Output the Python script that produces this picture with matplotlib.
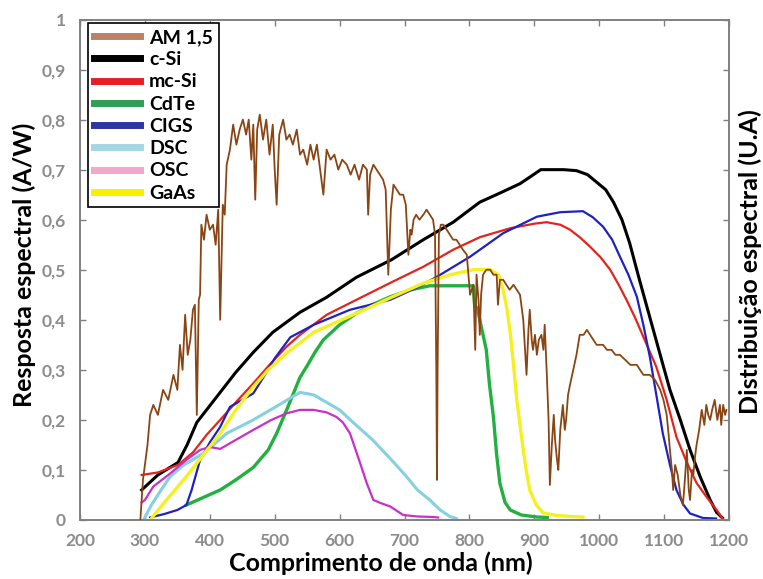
import matplotlib
matplotlib.use("Agg")
import matplotlib.pyplot as plt
from matplotlib.lines import Line2D

plt.rcParams['font.family'] = ['Lato', 'DejaVu Sans']

# ---------------- data ----------------
am15_wl = [293, 297, 304, 308, 313, 320, 328, 336, 344, 350, 354, 358, 362, 366, 370, 374, 377, 380,
           383, 385, 387, 391, 395, 400, 405, 409, 413, 416, 420, 423, 426, 431, 436, 441, 446, 451,
           456, 460, 464, 467, 470, 473, 477, 482, 487, 492, 497, 500, 503, 507, 513, 518, 523, 528,
           534, 539, 544, 550, 555, 560, 565, 570, 575, 580, 586, 592, 598, 604, 611, 617, 623, 630,
           636, 642, 644, 647, 652, 657, 662, 667, 671, 675, 679, 683, 688, 693, 698, 702, 706, 709,
           711, 714, 718, 723, 729, 734, 739, 744, 747, 749, 750, 751, 753, 756, 760, 765, 770, 775,
           780, 785, 790, 796, 801, 806, 809, 811, 814, 816, 818, 821, 826, 832, 837, 842, 844, 847,
           852, 857, 862, 868, 873, 878, 883, 888, 891, 893, 896, 898, 901, 904, 907, 911, 914, 916,
           919, 922, 924, 927, 930, 932, 935, 937, 940, 944, 947, 949, 952, 955, 960, 965, 970, 976,
           981, 986, 991, 996, 1001, 1006, 1012, 1019, 1025, 1032, 1040, 1048, 1058, 1068, 1078, 1086,
           1094, 1099, 1104, 1107, 1109, 1112, 1114, 1117, 1121, 1125, 1129, 1132, 1135, 1138, 1140,
           1143, 1145, 1148, 1150, 1154, 1158, 1162, 1165, 1168, 1171, 1174, 1178, 1182, 1186, 1188,
           1191, 1194, 1196]
am15_val = [0.00, 0.08, 0.15, 0.21, 0.23, 0.21, 0.26, 0.24, 0.29, 0.26, 0.35, 0.30, 0.41, 0.33, 0.36, 0.42, 0.43, 0.21,
            0.44, 0.45, 0.59, 0.56, 0.61, 0.58, 0.59, 0.55, 0.62, 0.40, 0.63, 0.61, 0.71, 0.74, 0.79, 0.75, 0.78, 0.80,
            0.77, 0.80, 0.72, 0.79, 0.64, 0.78, 0.81, 0.76, 0.80, 0.73, 0.79, 0.70, 0.63, 0.77, 0.80, 0.76, 0.77, 0.75,
            0.78, 0.73, 0.74, 0.71, 0.75, 0.72, 0.75, 0.70, 0.65, 0.74, 0.72, 0.73, 0.70, 0.72, 0.71, 0.69, 0.71, 0.68,
            0.71, 0.70, 0.61, 0.69, 0.71, 0.70, 0.69, 0.68, 0.66, 0.49, 0.62, 0.67, 0.66, 0.65, 0.65, 0.63, 0.53, 0.58,
            0.57, 0.60, 0.61, 0.60, 0.61, 0.62, 0.61, 0.60, 0.57, 0.30, 0.08, 0.30, 0.57, 0.59, 0.59, 0.58, 0.57, 0.56,
            0.56, 0.55, 0.54, 0.53, 0.45, 0.47, 0.34, 0.49, 0.44, 0.37, 0.45, 0.49, 0.50, 0.50, 0.49, 0.49, 0.43, 0.48,
            0.48, 0.47, 0.46, 0.47, 0.46, 0.45, 0.40, 0.29, 0.38, 0.42, 0.36, 0.34, 0.37, 0.33, 0.36, 0.37, 0.34, 0.39,
            0.30, 0.20, 0.07, 0.15, 0.21, 0.16, 0.12, 0.10, 0.18, 0.23, 0.18, 0.20, 0.25, 0.27, 0.30, 0.33, 0.37, 0.37,
            0.38, 0.37, 0.36, 0.35, 0.35, 0.35, 0.34, 0.34, 0.33, 0.33, 0.32, 0.31, 0.31, 0.29, 0.29, 0.28,
            0.26, 0.24, 0.21, 0.17, 0.14, 0.10, 0.06, 0.11, 0.09, 0.05, 0.03, 0.08, 0.14, 0.06, 0.04,
            0.10, 0.09, 0.13, 0.15, 0.18, 0.22, 0.19, 0.23, 0.21, 0.20, 0.22, 0.24, 0.20, 0.23, 0.19,
            0.23, 0.21, 0.22]

csi_wl = [295, 320, 351, 365, 380, 398, 416, 440, 467, 497, 539, 580, 626, 680, 729, 775, 816, 850, 878, 893,
          910, 924, 945, 965, 982, 996, 1010, 1022, 1035, 1047, 1062, 1078, 1094, 1109, 1125, 1140, 1156,
          1171, 1181, 1190]
csi_val = [0.06, 0.09, 0.115, 0.15, 0.195, 0.225, 0.255, 0.295, 0.335, 0.375, 0.415, 0.445, 0.485, 0.52, 0.56,
           0.595, 0.635, 0.655, 0.672, 0.685, 0.70, 0.70, 0.70, 0.698, 0.69, 0.675, 0.66, 0.635, 0.60, 0.553,
           0.48, 0.405, 0.33, 0.26, 0.20, 0.14, 0.085, 0.04, 0.015, 0.004]

mcsi_wl = [295, 320, 351, 374, 395, 416, 440, 467, 492, 518, 539, 580, 626, 680, 729, 775, 816, 863, 900, 919,
           940, 955, 970, 986, 1002, 1017, 1030, 1042, 1055, 1068, 1088, 1104, 1119, 1135, 1150, 1166, 1181, 1190]
mcsi_val = [0.09, 0.095, 0.11, 0.135, 0.17, 0.20, 0.235, 0.273, 0.31, 0.346, 0.37, 0.41, 0.44, 0.475, 0.506,
            0.54, 0.565, 0.583, 0.592, 0.595, 0.59, 0.58, 0.565, 0.546, 0.525, 0.50, 0.47, 0.44, 0.405, 0.366,
            0.306, 0.24, 0.166, 0.115, 0.074, 0.045, 0.02, 0.003]

cdte_wl = [364, 390, 416, 440, 467, 490, 503, 520, 539, 549, 562, 575, 600, 626, 650, 678, 710, 739, 760, 790,
           806, 808, 813, 816, 821, 826, 831, 837, 842, 847, 855, 863, 880, 904, 920]
cdte_val = [0.03, 0.045, 0.06, 0.08, 0.105, 0.14, 0.173, 0.225, 0.285, 0.306, 0.335, 0.36, 0.39, 0.413,
            0.43, 0.446, 0.46, 0.468, 0.468, 0.468, 0.468, 0.43, 0.42, 0.40, 0.37, 0.34, 0.27, 0.206, 0.13,
            0.073, 0.035, 0.02, 0.01, 0.006, 0.005]

cigs_wl = [308, 330, 350, 364, 372, 385, 400, 416, 431, 450, 467, 485, 500, 524, 560, 616, 678, 720, 750, 801,
           852, 904, 940, 975, 990, 1006, 1020, 1032, 1045, 1058, 1068, 1078, 1088, 1098, 1109, 1119, 1130,
           1140, 1160, 1180]
cigs_val = [0.005, 0.012, 0.02, 0.03, 0.06, 0.12, 0.155, 0.186, 0.226, 0.24, 0.253, 0.29, 0.323, 0.365, 0.39,
            0.42, 0.44, 0.465, 0.486, 0.526, 0.573, 0.606, 0.615, 0.617, 0.605, 0.586, 0.56, 0.526, 0.49,
            0.446, 0.39, 0.326, 0.25, 0.173, 0.11, 0.06, 0.03, 0.013, 0.004, 0.003]

dsc_wl = [298, 310, 325, 339, 360, 390, 426, 467, 500, 539, 560, 600, 625, 651, 680, 703, 720, 739, 755,
          770, 780]
dsc_val = [0.0, 0.03, 0.06, 0.087, 0.11, 0.133, 0.173, 0.20, 0.225, 0.255, 0.25, 0.22, 0.19, 0.16, 0.12,
           0.087, 0.06, 0.04, 0.02, 0.007, 0.003]

osc_wl = [295, 300, 313, 326, 339, 364, 385, 400, 416, 440, 467, 495, 518, 539, 560, 580, 595, 605, 616,
          630, 642, 652, 665, 678, 698, 720, 744, 752]
osc_val = [0.035, 0.04, 0.067, 0.08, 0.093, 0.12, 0.14, 0.146, 0.142, 0.16, 0.18, 0.20, 0.213, 0.22, 0.22,
           0.215, 0.206, 0.195, 0.173, 0.12, 0.073, 0.04, 0.033, 0.027, 0.01, 0.007, 0.006, 0.005]

gaas_wl = [308, 330, 364, 390, 416, 440, 467, 490, 518, 560, 626, 680, 729, 770, 806, 832, 845, 852, 858,
           863, 868, 873, 878, 883, 888, 893, 903, 914, 935, 955, 975]
gaas_val = [0.0, 0.035, 0.087, 0.13, 0.173, 0.22, 0.266, 0.30, 0.333, 0.375, 0.413, 0.445, 0.473, 0.49,
            0.50, 0.50, 0.49, 0.46, 0.42, 0.373, 0.31, 0.24, 0.19, 0.14, 0.095, 0.06, 0.03, 0.014, 0.009,
            0.007, 0.006]

labels = ['AM 1,5', 'c-Si', 'mc-Si', 'CdTe', 'CIGS', 'DSC', 'OSC', 'GaAs']
line_colors = ['#8a4515', '#000000', '#e3241e', '#22b040', '#1f22c0', '#86d0e0', '#c830c8', '#f5f020']
legend_colors = ['#bb8266', '#000000', '#e3202a', '#2ea055', '#3035a5', '#a6d6e6', '#f2a8c8', '#f8f000']
x_ticks = [200, 300, 400, 500, 600, 700, 800, 900, 1000, 1100, 1200]
y_ticks = [0, 0.1, 0.2, 0.3, 0.4, 0.5, 0.6, 0.7, 0.8, 0.9, 1]
y_ticklabels = ['0', '0,1', '0,2', '0,3', '0,4', '0,5', '0,6', '0,7', '0,8', '0,9', '1']

# ---------------- figure ----------------
fig = plt.figure(figsize=(7.63, 5.79), dpi=100)
ax = fig.add_axes([80 / 763, 1 - 520 / 579, 649 / 763, 500.5 / 579])

series = [(csi_wl, csi_val, 1, 2.2), (mcsi_wl, mcsi_val, 2, 1.6), (cdte_wl, cdte_val, 3, 2.4),
          (cigs_wl, cigs_val, 4, 1.6), (dsc_wl, dsc_val, 5, 2.2), (osc_wl, osc_val, 6, 1.6),
          (gaas_wl, gaas_val, 7, 2.4)]
for wl, val, idx, lw in series:
    ax.plot(wl, val, color=line_colors[idx], lw=lw, solid_joinstyle='round', zorder=2)
ax.plot(am15_wl, am15_val, color=line_colors[0], lw=1.3, zorder=3)

ax.set_xlim(200, 1200)
ax.set_ylim(0, 1)
ax.set_xticks(x_ticks)
ax.set_yticks(y_ticks)
ax.set_yticklabels(y_ticklabels)
ax.tick_params(direction='in', length=4, width=1, colors='#808080',
               labelcolor='#8c8c8c', labelsize=12.5, top=True, right=True)
for lab in ax.get_xticklabels() + ax.get_yticklabels():
    lab.set_fontweight('bold')
ax.tick_params(axis='x', pad=9)
ax.tick_params(axis='y', pad=10)
for sp in ax.spines.values():
    sp.set_color('#808080')
    sp.set_linewidth(1.4)

fig.text(381 / 763, 1 - 563 / 579, 'Comprimento de onda (nm)', fontsize=18, fontweight='bold',
         ha='center', va='center')
fig.text(24 / 763, 1 - 265 / 579, 'Resposta espectral (A/W)', rotation=90, fontsize=18,
         fontweight='bold', ha='center', va='center')
fig.text(750 / 763, 1 - 262 / 579, 'Distribuição espectral (U.A)', rotation=90, fontsize=18,
         fontweight='bold', ha='center', va='center')

handles = [Line2D([], [], color=c, lw=5) for c in legend_colors]
leg = ax.legend(handles, labels, loc='upper left', bbox_to_anchor=(0.012, 0.993),
                borderaxespad=0, fancybox=False, framealpha=1, edgecolor='black',
                prop={'weight': 'bold', 'size': 14}, handlelength=2.4, handletextpad=0.45,
                labelspacing=0.27, borderpad=0.3)
leg.get_frame().set_linewidth(1.2)

fig.savefig('out.png', dpi=100)
